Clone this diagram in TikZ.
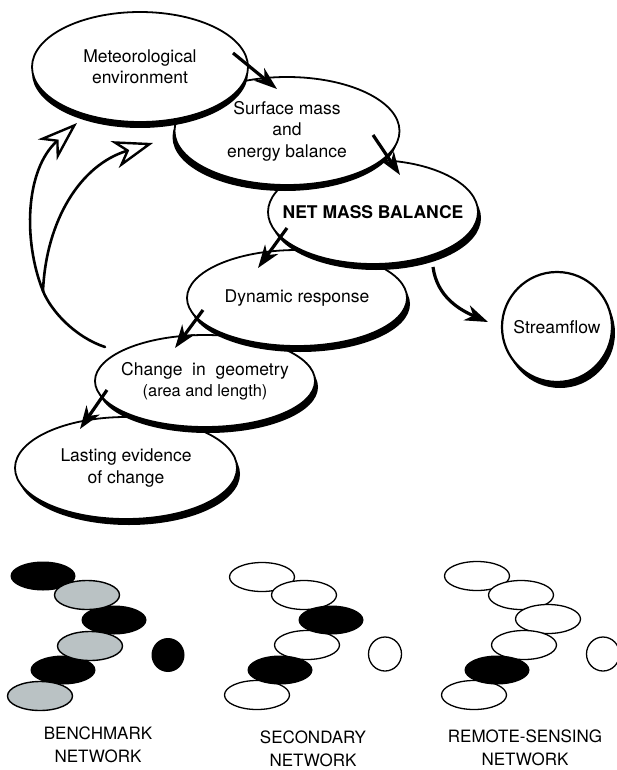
\documentclass[tikz,border=0pt]{standalone}
\usepackage{fontspec}
\setmainfont{TeX Gyre Heros}
\usetikzlibrary{shapes.geometric, arrows.meta, shadows}
\definecolor{cShade}{RGB}{186,194,196}
\tikzset{
    stage/.style={ellipse, draw=black, line width=1.8pt, fill=white, inner xsep=-25pt, inner ysep=0pt, align=center, font=\fontsize{17.5}{21.5}\selectfont, drop shadow={shadow xshift=#1, shadow yshift=-6pt, fill=black, opacity=1}},
    stage/.default=3pt,
    tinyblack/.style={ellipse, fill=black, minimum width=65pt, minimum height=29pt, inner sep=0pt},
    tinygray/.style ={ellipse, draw=black, line width=1.4pt, fill=cShade, minimum width=65pt, minimum height=29pt, inner sep=0pt},
    tinywhite/.style={ellipse, draw=black, line width=1.3pt, fill=white, minimum width=65pt, minimum height=29pt, inner sep=0pt},
    tinyround/.style={minimum width=33pt, minimum height=34pt},
    netlabel/.style={align=center, font=\fontsize{17}{23}\selectfont},
    flowarrow/.style={-{Stealth[length=23pt, width=16pt, inset=7pt]}, line width=3.2pt},
    feedback/.style={-{Stealth[open, length=40pt, width=28pt, inset=12pt, line width=2.4pt]}, line width=2.6pt, line cap=round},
}
\begin{document}
\begin{tikzpicture}[x=1pt, y=-1pt]
        \useasboundingbox (0,0) rectangle (617,770);
        % cascade, lowest first so the upper ones lie on top
        \node[stage, minimum width=222pt, minimum height=102pt] (last) at (126,468) {Lasting evidence\\of change};
        \node[stage, minimum width=220pt, minimum height=92pt] (chg) at (205,381) {Change\ \ in\ \ geometry\\{\fontsize{16.4}{20}\selectfont(area and length)}};
        \node[stage, minimum width=220pt, minimum height=96pt] (dyn) at (297,298) {Dynamic response};
        \node[stage, minimum width=210pt, minimum height=104pt, font=\fontsize{17.5}{21.5}\selectfont\bfseries] (net) at (373,212) {NET MASS BALANCE};
        \node[stage=-2pt, minimum width=225pt, minimum height=108pt] (surf) at (287,131) {Surface mass\\and\\energy balance};
        \node[stage=0pt, minimum width=216pt, minimum height=110pt] (met) at (140,67) {Meteorological\\environment};
        \node[stage, circle, minimum size=110pt, line width=2.2pt] (stream) at (557,327) {Streamflow};

        \draw[flowarrow] ([shift={(93,-14)}]met.center) -- ([shift={(-10,-42)}]surf.center);
        \draw[flowarrow] ([shift={(86,4)}]surf.center) -- ([shift={(27,-37)}]net.center);
        \draw[flowarrow] ([shift={(-86,16)}]net.center) -- ([shift={(-39,-30)}]dyn.center);
        \draw[flowarrow] ([shift={(-94,12)}]dyn.center) -- ([shift={(-30,-33)}]chg.center);
        \draw[flowarrow] ([shift={(-98,9)}]chg.center) -- ([shift={(-46,-39)}]last.center);
        \draw[flowarrow] ([shift={(60,55)}]net.center) .. controls +(4,30) and +(-28,-12) .. ([shift={(-69,-5)}]stream.center);

        % feedback loops back to the weather
        \coordinate (fork) at (43,291);
        \draw[line width=2.6pt, line cap=round] ([shift={(-100,-34)}]chg.center) .. controls +(-30,-10) and +(8,20) .. (fork);
        \draw[feedback] (fork) .. controls +(-20,-50) and +(-52,47) .. ([shift={(-63,56)}]met.center);
        \draw[feedback] (fork) .. controls +(3,-70) and +(-73,22) .. ([shift={(13,76)}]met.center);

        % benchmark network
        \node[tinyblack] (b1) at (43,576) {};
        \node[tinyblack] (b3) at (114,620) {};
        \node[tinyblack] (b5) at (63,670) {};
        \node[tinygray] (b2) at (87,595) {};
        \node[tinygray] (b4) at (90,646) {};
        \node[tinygray] (b6) at (40,696) {};
        \node[tinyblack, tinyround] (b7) at (168,655) {};
        \node[netlabel] (blabel) at (98,745) {BENCHMARK\\NETWORK};

        % secondary network
        \node[tinywhite] (s1) at (262,577) {};
        \node[tinywhite] (s2) at (304,595) {};
        \node[tinywhite] (s4) at (307,645) {};
        \node[tinywhite] (s6) at (257,695) {};
        \node[tinyblack] (s3) at (331,620) {};
        \node[tinyblack] (s5) at (280,670) {};
        \node[tinywhite, tinyround] (s7) at (385,654) {};
        \node[netlabel] (slabel) at (313,749) {SECONDARY\\NETWORK};

        % remote-sensing network
        \node[tinywhite] (r1) at (477,576) {};
        \node[tinywhite] (r2) at (521,595) {};
        \node[tinywhite] (r3) at (548,619) {};
        \node[tinywhite] (r4) at (524,645) {};
        \node[tinywhite] (r6) at (474,695) {};
        \node[tinyblack] (r5) at (497,670) {};
        \node[tinywhite, tinyround] (r7) at (603,654) {};
        \node[netlabel] (rlabel) at (525,748) {REMOTE-SENSING\\NETWORK};
    \end{tikzpicture}
\end{document}
